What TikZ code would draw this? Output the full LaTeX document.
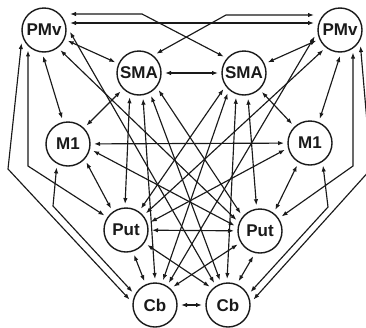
\documentclass[tikz,border=0pt]{standalone}
\usepackage{fontspec}
\setmainfont{Liberation Sans}
\usetikzlibrary{arrows.meta}
\definecolor{ink}{HTML}{1A1A1A}
\begin{document}
\begin{tikzpicture}[x=1pt,y=-1pt,
  region/.style={circle, draw=ink, line width=1.4pt, minimum size=44pt,
    inner sep=0pt, outer sep=4pt, text=ink,
    font=\bfseries\fontsize{17}{17}\selectfont},
  link/.style={draw=ink, line width=1.15pt,
    {Latex[length=6pt,width=4.4pt]}-{Latex[length=6pt,width=4.4pt]}}]
\fill[white] (0,0) rectangle (366,327);
\useasboundingbox (0,0) rectangle (366,327);

% regions, left and right hemisphere
\node[region] (pmvL) at (44,30)  {PMv};
\node[region] (pmvR) at (340,30) {PMv};
\node[region] (smaL) at (139,73) {SMA};
\node[region] (smaR) at (244,73) {SMA};
\node[region] (m1L)  at (68,144) {M1};
\node[region] (m1R)  at (310,143) {M1};
\node[region] (putL) at (126,230) {Put};
\node[region] (putR) at (260,231) {Put};
\node[region] (cbL)  at (155,305) {Cb};
\node[region] (cbR)  at (228,305) {Cb};

% bend points of the routed connectors
\coordinate (kA) at (142,14);
\coordinate (kB) at (226,15);
\coordinate (kC) at (8,169);
\coordinate (kD) at (28,166);
\coordinate (kE) at (53,206);
\coordinate (kF) at (371,169);
\coordinate (kG) at (353,166);
\coordinate (kH) at (328,207);

% interhemispheric links across the top
\draw[link] ([yshift=7pt]pmvL.east) -- ([yshift=7pt]pmvR.west);
\draw[link] (pmvL.east |- kA) -- (kA) -- (smaR.141);
\draw[link] (pmvR.west |- kB) -- (kB) -- (smaL.48);
\draw[link] (smaL) -- (smaR);
\draw[link] (m1L) -- (m1R);
\draw[link] (putL) -- (putR);
\draw[link] (cbL) -- (cbR);

% ipsilateral cortical links
\draw[link] (pmvL) -- (smaL);
\draw[link] (pmvR) -- (smaR);
\draw[link] (pmvL.268) -- (m1L.103);
\draw[link] (pmvR.270) -- (m1R.68);
\draw[link] (smaL) -- (m1L);
\draw[link] (smaR) -- (m1R);

% outer routed links, left
\draw[link] (pmvL.210) -- (kC) -- (cbL.168);
\draw[link] (pmvL.232) -- (pmvL.232 |- kD) -- (putL.146);
\draw[link] (m1L.244) -- (kE) -- (cbL.150);
% outer routed links, right
\draw[link] (pmvR.322) -- (kF) -- (cbR.12);
\draw[link] (pmvR.300) -- (pmvR.300 |- kG) -- (putR.34);
\draw[link] (m1R.300) -- (kH) -- (cbR.30);

% PMv to contralateral subcortical targets
\draw[link] (pmvL.356) -- (cbR.122);
\draw[link] (pmvR.194) -- (cbL.58);
\draw[link] (pmvL.309) -- (putR.155);
\draw[link] (pmvR.230) -- (putL.40);

% SMA to basal ganglia and cerebellum
\draw[link] (smaL.249) -- (putL.92);
\draw[link] (smaR.279) -- (putR.98);
\draw[link] (smaL.279) -- (cbL.90);
\draw[link] (smaR.252) -- (cbR.92);
\draw[link] (smaL.298) -- (cbR.108);
\draw[link] (smaR.231) -- (cbL.72);
\draw[link] (smaL.319) -- (putR.138);
\draw[link] (smaR.218) -- (putL.55);

% M1 to putamen
\draw[link] (m1L.315) -- (putL.125);
\draw[link] (m1R.240) -- (putR.54);
\draw[link] (m1L.345) -- (putR.168);
\draw[link] (m1R.195) -- (putL.18);

% putamen to cerebellum
\draw[link] (putL.288) -- (cbL.114);
\draw[link] (putR.255) -- (cbR.66);
\draw[link] (putL.325) -- (cbR.135);
\draw[link] (putR.211) -- (cbL.45);
\end{tikzpicture}
\end{document}
